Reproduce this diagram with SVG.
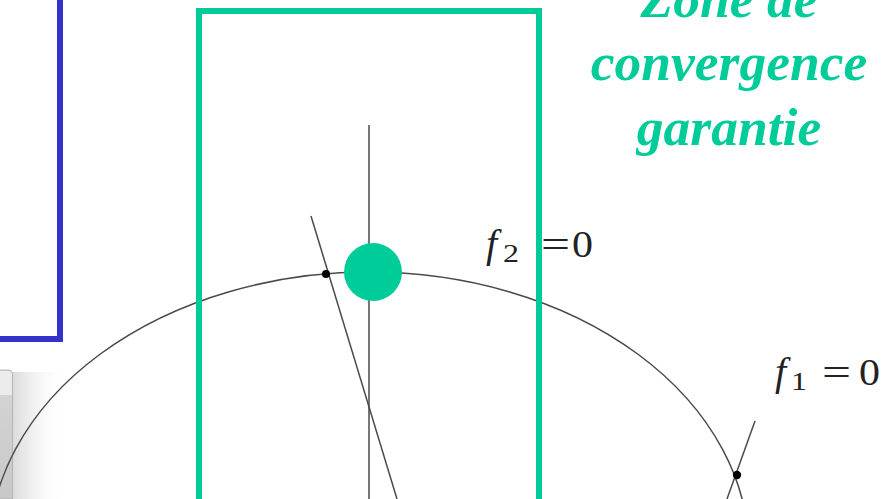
<svg xmlns="http://www.w3.org/2000/svg" width="886" height="499" viewBox="0 0 886 499">
  <defs>
    <style>
      .curve { fill: none; stroke: #4a4a4a; stroke-width: 1.5; }
      .dot { fill: #000; }
      .zone { font-family: "Liberation Serif", serif; font-weight: bold; font-style: italic; font-size: 53.5px; fill: #00CC99; text-anchor: middle; }
      .math { font-family: "Liberation Serif", serif; fill: #222; font-size: 38px; }
      .mi { font-style: italic; font-size: 40px; }
      .sub { font-size: 25px; }
    </style>
    <linearGradient id="shadow" x1="0" y1="0" x2="1" y2="0">
      <stop offset="0" stop-color="#bbb" stop-opacity="0.55"/>
      <stop offset="1" stop-color="#fff" stop-opacity="0"/>
    </linearGradient>
    <linearGradient id="panel" x1="0" y1="0" x2="0" y2="1">
      <stop offset="0" stop-color="#d6d6d6"/>
      <stop offset="1" stop-color="#c8c8c8"/>
    </linearGradient>
  </defs>
  <rect width="886" height="499" fill="#fff"/>

  <g id="window-fragment">
    <rect x="12" y="372" width="55" height="127" fill="url(#shadow)"/>
    <path d="M-2 370 H8 Q12.5 370 12.5 374.5 V499 H-2 Z" fill="url(#panel)" stroke="#b5b5b5" stroke-width="1"/>
    <path d="M-2 371 H8 Q12 371 12 375 V395 H-2 Z" fill="#ececec"/>
  </g>

  <g id="connectors">
    <ellipse class="curve" cx="369" cy="552" rx="380" ry="280"/>
    <line class="curve" x1="369" y1="125" x2="369" y2="499"/>
    <line class="curve" x1="311" y1="216" x2="397" y2="499"/>
    <line class="curve" x1="755" y1="421" x2="727" y2="499"/>
  </g>

  <g id="intersection-1">
    <circle class="dot" cx="326" cy="274" r="4"/>
  </g>
  <g id="intersection-2">
    <circle class="dot" cx="737" cy="475" r="4.2"/>
  </g>

  <g id="label-f2">
    <text class="math mi" x="486" y="257">f</text>
    <text class="math sub" x="503" y="262" textLength="16" lengthAdjust="spacingAndGlyphs">2</text>
    <text class="math" x="541" y="257" textLength="29" lengthAdjust="spacingAndGlyphs">=</text>
    <text class="math" x="572" y="257" textLength="21" lengthAdjust="spacingAndGlyphs">0</text>
  </g>
  <g id="label-f1">
    <text class="math mi" x="775" y="385">f</text>
    <text class="math sub" x="791" y="390" textLength="16" lengthAdjust="spacingAndGlyphs">1</text>
    <text class="math" x="822" y="385" textLength="29" lengthAdjust="spacingAndGlyphs">=</text>
    <text class="math" x="859" y="385" textLength="21" lengthAdjust="spacingAndGlyphs">0</text>
  </g>

  <g id="blue-box">
    <rect x="-10" y="-10" width="70" height="349" fill="none" stroke="#3333CC" stroke-width="6"/>
  </g>

  <g id="green-zone">
    <rect x="199" y="11" width="340" height="500" fill="none" stroke="#00CC99" stroke-width="6"/>
    <circle cx="373" cy="272" r="29" fill="#00CC99"/>
  </g>

  <g id="zone-label">
    <text class="zone" x="729" y="17">Zone de</text>
    <text class="zone" x="729" y="80">convergence</text>
    <text class="zone" x="729" y="145">garantie</text>
  </g>
</svg>
